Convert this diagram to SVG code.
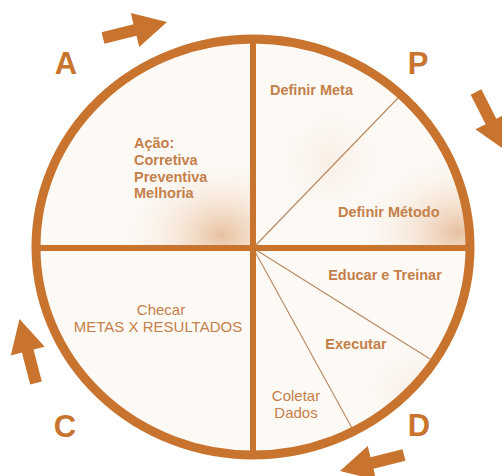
<svg xmlns="http://www.w3.org/2000/svg" width="502" height="476" viewBox="0 0 502 476">
<defs>
<style>
.ring{fill:none;stroke:#c8742f;stroke-width:9}
.bar{stroke:#c8742f;stroke-width:6}
.thin{stroke:#b8875f;stroke-width:1.1}
.arrow{fill:#c8742f}
.big{font-family:"Liberation Sans",Arial,sans-serif;font-weight:bold;font-size:31px;fill:#c8742f}
.lbl{font-family:"Liberation Sans",Arial,sans-serif;font-weight:bold;font-size:14.5px;fill:#c4804a}
.lblr{font-family:"Liberation Sans",Arial,sans-serif;font-size:15px;fill:#c4804a}
</style>
<radialGradient id="gA" cx="0.5" cy="0.5" r="0.5">
<stop offset="0" stop-color="#d99c68" stop-opacity="0.6"/>
<stop offset="0.4" stop-color="#ebc6a4" stop-opacity="0.35"/>
<stop offset="1" stop-color="#ffffff" stop-opacity="0"/>
</radialGradient>
<clipPath id="clipA"><rect x="36" y="38" width="217" height="210"/></clipPath>
<clipPath id="clipP"><rect x="253" y="38" width="220" height="210"/></clipPath>
<clipPath id="clipD"><rect x="253" y="248" width="220" height="210"/></clipPath>
<clipPath id="inner"><ellipse cx="253" cy="247" rx="215" ry="206"/></clipPath>
<polygon id="arr" points="0,-6 33,-6 33,-17.5 66,0 33,17.5 33,6 0,6"/>
</defs>
<rect width="502" height="476" fill="#ffffff"/>
<g id="background">
<ellipse cx="253" cy="247" rx="217" ry="208" fill="#fdf9f5"/>
<g clip-path="url(#inner)">
<g clip-path="url(#clipA)"><ellipse cx="222" cy="235" rx="110" ry="85" fill="url(#gA)"/></g>
<g clip-path="url(#clipP)"><ellipse cx="458" cy="232" rx="110" ry="85" fill="url(#gA)"/><ellipse cx="330" cy="160" rx="70" ry="70" fill="url(#gA)" opacity="0.2"/></g>
<g clip-path="url(#clipD)"><ellipse cx="420" cy="390" rx="70" ry="55" fill="url(#gA)" opacity="0.25"/></g>
</g>
</g>
<g id="connectors">
<line class="thin" x1="253" y1="248" x2="398" y2="98"/>
<line class="thin" x1="253" y1="248" x2="430" y2="359"/>
<line class="thin" x1="253" y1="248" x2="352" y2="428"/>
<line class="bar" x1="36" y1="248" x2="472" y2="248"/>
<line class="bar" x1="253" y1="38" x2="253" y2="455"/>
<ellipse class="ring" cx="253" cy="247" rx="217" ry="208"/>
</g>
<g id="arrows">
<use href="#arr" class="arrow" transform="translate(103,38) rotate(-14)"/>
<use href="#arr" class="arrow" transform="translate(476,92) rotate(63)"/>
<use href="#arr" class="arrow" transform="translate(36,383) rotate(-104.5)"/>
<use href="#arr" class="arrow" transform="translate(404,455) rotate(166)"/>
</g>
<g id="node-A"><text class="big" x="66" y="74" text-anchor="middle">A</text></g>
<g id="node-P"><text class="big" x="418" y="74" text-anchor="middle">P</text></g>
<g id="node-C"><text class="big" x="65" y="437" text-anchor="middle">C</text></g>
<g id="node-D"><text class="big" x="419" y="436" text-anchor="middle">D</text></g>
<g id="node-acao">
<text class="lbl" x="134" y="148">Ação:</text>
<text class="lbl" x="134" y="165">Corretiva</text>
<text class="lbl" x="134" y="182">Preventiva</text>
<text class="lbl" x="134" y="198">Melhoria</text>
</g>
<g id="node-definir-meta"><text class="lbl" x="270" y="95">Definir Meta</text></g>
<g id="node-definir-metodo"><text class="lbl" x="338" y="217">Definir Método</text></g>
<g id="node-educar"><text class="lbl" x="385" y="280" text-anchor="middle">Educar e Treinar</text></g>
<g id="node-executar"><text class="lbl" x="356" y="349" text-anchor="middle">Executar</text></g>
<g id="node-coletar">
<text class="lblr" x="296" y="401" text-anchor="middle">Coletar</text>
<text class="lblr" x="296" y="418" text-anchor="middle">Dados</text>
</g>
<g id="node-checar">
<text class="lblr" x="161" y="315" text-anchor="middle">Checar</text>
<text class="lblr" x="158" y="332" text-anchor="middle">METAS X RESULTADOS</text>
</g>
</svg>
